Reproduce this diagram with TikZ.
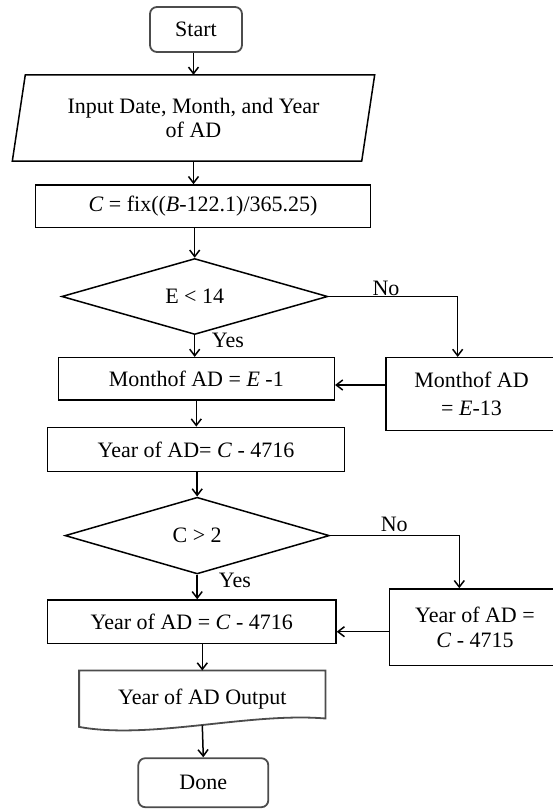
\documentclass[tikz,border=0pt]{standalone}
\usepackage{fontspec}
\setmainfont{Liberation Serif}
\usetikzlibrary{arrows.meta,shapes.geometric}
\begin{document}
\begin{tikzpicture}[x=1pt,y=-1pt,
  every node/.style={font=\fontsize{22}{25}\selectfont},
  box/.style={draw, line width=1.5pt, rectangle, inner sep=0pt, align=center},
  term/.style={draw=black!70, line width=1.8pt, rounded corners=7pt, inner sep=0pt, rectangle},
  dec/.style={draw, line width=1.5pt, diamond, inner sep=0pt},
  arr/.style={line width=1.5pt, -{Straight Barb[length=6.5pt,width=10pt]}},
  lbl/.style={inner sep=0pt}]
\useasboundingbox (0,0) rectangle (553,809);
\clip (0,0) rectangle (553,809);

% nodes
\node[term, minimum width=92pt, minimum height=45pt] (start) at (196,29.5) {Start};
\node[inner sep=0pt, align=center, minimum width=349pt, minimum height=86pt] (input) at (193.5,118)
  {Input Date, Month, and Year\\[-1pt]of AD};
\draw[line width=1.5pt] ([xshift=6.5pt]input.north west) -- ([xshift=6.5pt]input.north east)
  -- ([xshift=-6.5pt]input.south east) -- ([xshift=-6.5pt]input.south west) -- cycle;
\node[box, minimum width=334.6pt, minimum height=42.7pt] (cbox) at (203,206.3)
  {\textit{C} = fix((\textit{B}-122.1)/365.25)};
\node[dec, minimum width=266pt, minimum height=76pt] (d1) at (194.7,296.5) {E < 14};
\node[box, minimum width=276pt, minimum height=42.3pt] (m1) at (196.3,378.8)
  {Monthof AD = \textit{E} -1};
\node[box, minimum width=171pt, minimum height=73pt, font=\fontsize{22}{28}\selectfont] (m2) at (471.5,394.2)
  {Monthof AD\\= \textit{E}-13};
\node[box, minimum width=296.6pt, minimum height=44.3pt] (y1) at (196,449.5)
  {Year of AD= \textit{C} - 4716};
\node[dec, minimum width=264.3pt, minimum height=76.7pt] (d2) at (197.2,535.6) {C > 2};
\node[box, minimum width=288.3pt, minimum height=43.3pt] (y2) at (191.8,621.7)
  {Year of AD = \textit{C} - 4716};
\node[box, minimum width=171.4pt, minimum height=76.7pt] (y3) at (475,627.3)
  {Year of AD =\\\textit{C} - 4715};
\node[inner sep=0pt, minimum width=246pt, minimum height=56pt] (out) at (202.3,698.7)
  {Year of AD Output};
\draw[line width=1.8pt, draw=black!70] (out.south west) .. controls (150,740) and (250,712) ..
  ([yshift=8.4pt]out.south east) -- (out.north east) -- (out.north west) -- cycle;
\node[term, minimum width=130pt, minimum height=49pt] (done) at (203.3,782.7) {Done};

% labels
\node[lbl] (no1) at (386,288.3) {No};
\node[lbl] (yes1) at (228,340) {Yes};
\node[lbl] (no2) at (394.3,524.7) {No};
\node[lbl] (yes2) at (235,580.7) {Yes};

% helper coordinates
\coordinate (r1) at (0,385);
\coordinate (r2) at (0,631.7);

% connectors
\draw[arr] (start.south -| input.north) -- (input.north);
\draw[arr] (input.south) -- (input.south |- cbox.north);
\draw[arr] (d1.north |- cbox.south) -- (d1.north);
\draw[arr] (d1.south) -- (d1.south |- m1.north);
\draw[arr] (d1.east) -| ([xshift=-13.8pt]m2.north);
\draw[arr] (m2.west |- r1) -- (m1.east |- r1);
\draw[arr] (m1.south) -- (m1.south |- y1.north);
\draw[arr] (d2.north |- y1.south) -- (d2.north);
\draw[arr] (d2.south) -- (d2.south |- y2.north);
\draw[arr] (d2.east) -| ([xshift=-15.7pt]y3.north);
\draw[arr] (y3.west |- r2) -- (y2.east |- r2);
\draw[arr] (out.north |- y2.south) -- (out.north);
\draw[arr] ([yshift=1.5pt]out.south) -- (done.north);
\end{tikzpicture}
\end{document}
